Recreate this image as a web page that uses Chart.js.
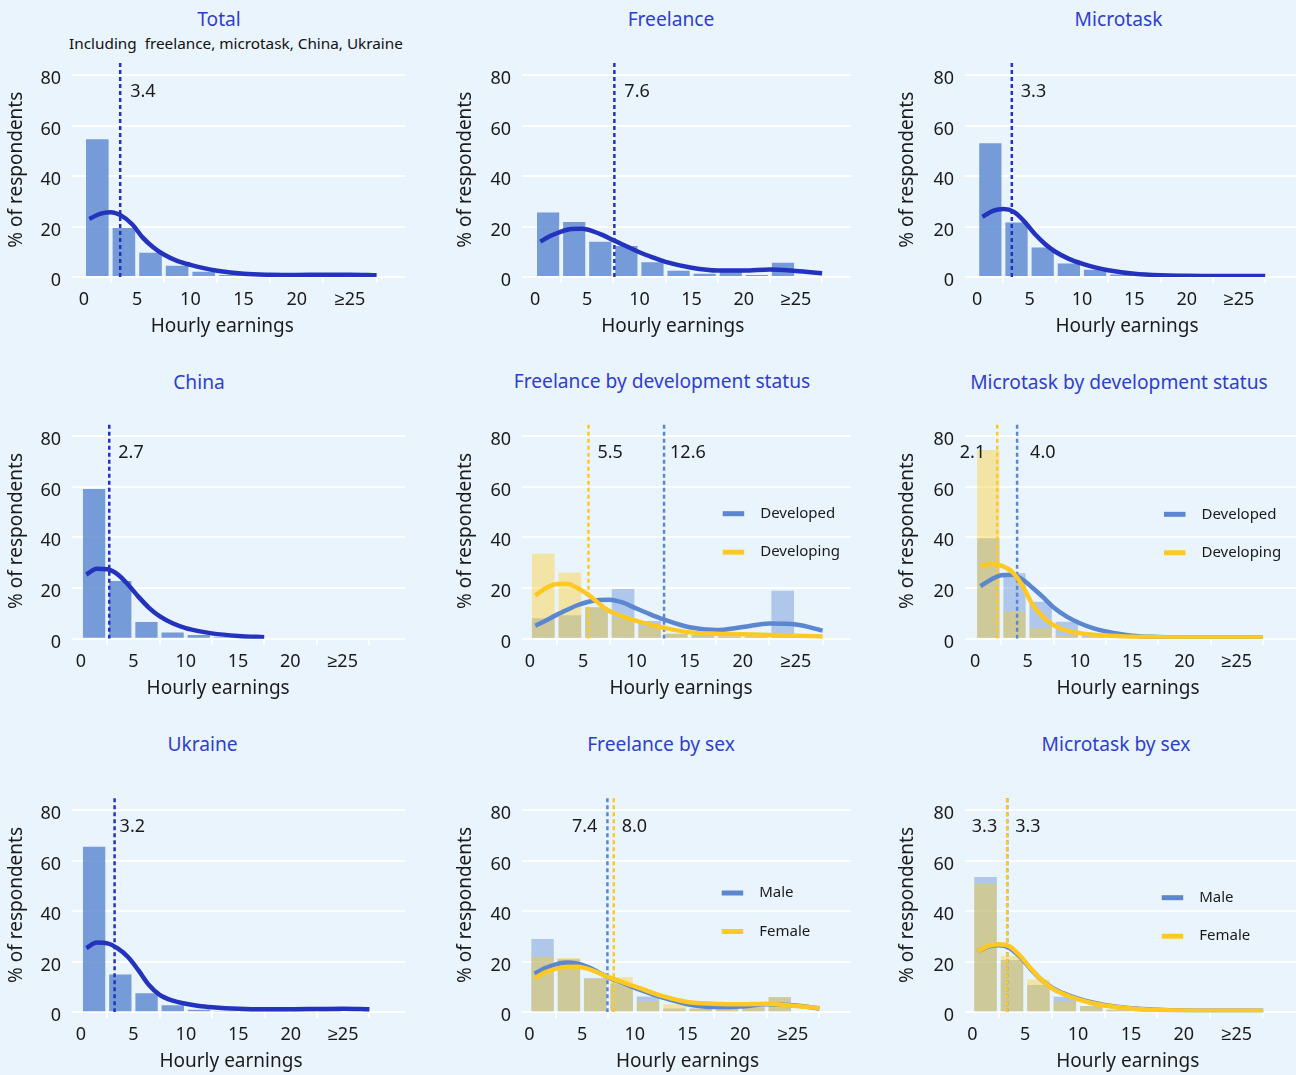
<!DOCTYPE html>
<html><head><meta charset="utf-8">
<script src="https://cdn.jsdelivr.net/npm/chart.js@4.4.1/dist/chart.umd.min.js"></script>
<style>
html,body{margin:0;padding:0;background:#EAF4FD;}
body{width:1296px;height:1075px;position:relative;overflow:hidden;font-family:"Noto Sans",sans-serif;}
.ttl{position:absolute;color:#2F3FCB;font-size:19.2px;line-height:1;white-space:pre;transform:translate(-50%,-50%);}
.sub{position:absolute;color:#111;font-size:15.3px;line-height:1;white-space:pre;transform:translate(-50%,-50%);}
canvas{position:absolute;}
</style></head><body>
<script>
// ---------- data ----------
const binCenters = [1.25, 3.75, 6.25, 8.75, 11.25, 13.75, 16.25, 18.75, 21.25, 23.75];
const kdeX = [0.5, 1.5, 2.5, 3.5, 4.5, 5.5, 6.5, 7.5, 8.75, 10, 11.25, 12.5, 15, 17.5, 20, 22.5, 25, 27.5];
const xTickValues = [0, 5, 10, 15, 20, 25];
const xTickLabels = ['0', '5', '10', '15', '20', '≥25'];
const yTickValues = [0, 20, 40, 60, 80];
const panelTitles = ['Total', 'Freelance', 'Microtask', 'China', 'Freelance by development status',
  'Microtask by development status', 'Ukraine', 'Freelance by sex', 'Microtask by sex'];
const subtitle = 'Including  freelance, microtask, China, Ukraine';
const yAxisTitle = '% of respondents';
const xAxisTitle = 'Hourly earnings';
const devLabels = ['Developed', 'Developing'];
const sexLabels = ['Male', 'Female'];

const totalBars = [54.6, 19.4, 9.6, 4.5, 2.1, 0.8, 0.4, 0.3, 0.2, 0.3];
const totalKde = [23.0, 25.0, 25.6, 24.3, 21.0, 15.7, 11.8, 8.9, 6.4, 4.8, 3.5, 2.5, 1.3, 0.9, 0.8, 0.9, 0.9, 0.7];
const totalMedian = 3.4;

const freelanceBars = [25.5, 21.8, 14.0, 12.3, 5.8, 2.5, 1.3, 2.2, 0.8, 5.6];
const freelanceKde = [14.0, 16.3, 18.0, 19.0, 19.1, 18.2, 16.6, 14.6, 12.2, 9.8, 7.8, 6.0, 3.7, 2.6, 2.6, 3.0, 2.4, 1.5];
const freelanceMedian = 7.6;

const microtaskBars = [53.0, 21.6, 11.7, 5.3, 2.9, 1.0, 0.4, 0.3, 0.3, 0.3];
const microtaskKde = [23.8, 26.2, 26.9, 25.8, 22.0, 17.0, 13.0, 9.9, 7.2, 5.3, 3.8, 2.7, 1.3, 0.7, 0.5, 0.4, 0.4, 0.4];
const microtaskMedian = 3.3;

const chinaBars = [59.1, 22.8, 6.6, 2.4, 1.5, 0.6, 0.2, 0, 0, 0];
const chinaKde = [25.3, 27.6, 27.4, 25.4, 21.3, 16.5, 12.2, 8.9, 6.1, 4.2, 3.0, 2.1, 1.1, 0.6, null, null, null, null];
const chinaMedian = 2.7;

const freelanceDevelopedBars = [8.1, 9.3, 12.4, 19.6, 7.0, 2.0, 1.5, 1.0, 1.0, 18.9];
const freelanceDevelopingBars = [33.5, 26.0, 12.2, 7.9, 4.4, 2.0, 1.0, 1.0, 0.8, 0.5];
const freelanceDevelopedKde = [5.1, 7.2, 9.4, 11.4, 13.3, 14.6, 15.3, 15.4, 14.2, 11.9, 9.7, 7.7, 4.5, 3.4, 4.6, 6.0, 5.6, 3.2];
const freelanceDevelopingKde = [17.0, 20.0, 21.6, 21.7, 19.9, 17.3, 13.8, 10.8, 8.7, 7.0, 5.6, 4.4, 2.5, 2.0, 1.8, 1.5, 1.2, 0.9];
const freelanceDevelopedMedian = 12.6;
const freelanceDevelopingMedian = 5.5;

const microtaskDevelopedBars = [39.6, 25.8, 14.6, 6.7, 2.0, 0.8, 0.4, 0.3, 0.3, 0.3];
const microtaskDevelopingBars = [74.5, 10.7, 4.1, 1.5, 0.5, 0.3, 0.2, 0.2, 0.2, 0.2];
const microtaskDevelopedKde = [20.7, 23.3, 25.0, 25.2, 23.4, 20.0, 16.3, 12.3, 8.7, 6.1, 4.2, 2.9, 1.2, 0.7, 0.5, 0.5, 0.5, 0.5];
const microtaskDevelopingKde = [28.6, 29.5, 28.8, 26.5, 21.0, 13.3, 8.5, 5.3, 3.2, 2.2, 1.6, 1.3, 0.8, 0.6, 0.5, 0.5, 0.5, 0.5];
const microtaskDevelopedMedian = 4.0;
const microtaskDevelopingMedian = 2.1;

const ukraineBars = [65.6, 15.0, 7.5, 2.8, 1.0, 0.5, 0.3, 0.3, 0.3, 0.3];
const ukraineKde = [25.5, 27.6, 27.3, 25.3, 21.8, 16.5, 10.7, 6.9, 4.6, 3.4, 2.5, 2.0, 1.4, 1.2, 1.2, 1.3, 1.4, 1.2];
const ukraineMedian = 3.2;

const freelanceMaleBars = [29.0, 21.0, 13.5, 11.4, 6.3, 1.5, 1.5, 1.5, 2.0, 6.0];
const freelanceFemaleBars = [22.0, 21.5, 13.3, 14.0, 4.5, 3.2, 1.5, 1.7, 2.2, 6.0];
const freelanceMaleKde = [15.3, 17.5, 19.0, 19.7, 19.3, 18.0, 16.0, 13.8, 11.8, 9.7, 7.8, 6.0, 3.2, 2.1, 2.3, 3.2, 2.8, 1.5];
const freelanceFemaleKde = [13.5, 15.8, 17.2, 17.9, 18.0, 17.3, 15.7, 13.9, 12.1, 10.3, 8.4, 6.6, 4.1, 3.4, 3.2, 3.4, 2.6, 1.7];
const freelanceMaleMedian = 7.4;
const freelanceFemaleMedian = 8.0;

const microtaskMaleBars = [53.6, 20.7, 10.8, 6.2, 2.5, 1.0, 0.5, 0.3, 0.3, 0.3];
const microtaskFemaleBars = [50.8, 22.3, 13.0, 4.2, 2.5, 1.0, 0.5, 0.3, 0.3, 0.3];
const microtaskMaleKde = [24.0, 26.0, 26.6, 25.6, 22.0, 17.2, 13.0, 9.9, 7.3, 5.4, 4.0, 2.9, 1.6, 1.0, 0.7, 0.6, 0.6, 0.6];
const microtaskFemaleKde = [24.0, 26.3, 27.0, 26.2, 22.5, 17.5, 13.0, 9.6, 7.0, 5.1, 3.7, 2.7, 1.5, 0.9, 0.7, 0.6, 0.6, 0.6];
const microtaskMaleMedian = 3.3;
const microtaskFemaleMedian = 3.3;

// ---------- style ----------
const FONT = '"Noto Sans", sans-serif';
const TEXT = '#1b1b1b';
const C_DARK = '#2433BD';
const C_BAR = 'rgba(91,135,208,0.82)';
const C_BLUE = '#5B87D0';
const C_BLUE_BAR = 'rgba(91,135,208,0.42)';
const C_YEL = '#FFC823';
const C_YEL_BAR = 'rgba(250,205,40,0.42)';
const Y_MAX = 85;
const MEDIAN_LABEL_Y = 73.3;

const colLeft = [0, 432, 864], colYW = [72, 90, 101], colPadR = [27, 13, 0], colYTitlePad = [5.6, 22.6, 31.9];
const rowTop = [0, 362, 724], rowH = [360, 360, 351], rowPadT = [62.4, 61.3, 73.7], rowXH = [83, 83.3, 62.7];
const titlePos = [[219, 19], [671, 19], [1118.5, 19], [199, 382], [662, 381], [1119, 382], [202.5, 744], [661, 744], [1116, 744]];
const subtitlePos = [236, 43.5];

const panels = [
  {xMin: -1.13, xMax: 30.17, xTitleAt: 13.0,
   bars: [[totalBars, C_BAR]], kdes: [[totalKde, C_DARK]], medians: [[totalMedian, C_DARK, 'right', 10]], legend: null},
  {xMin: -1.25, xMax: 30.27, xTitleAt: 13.2,
   bars: [[freelanceBars, C_BAR]], kdes: [[freelanceKde, C_DARK]], medians: [[freelanceMedian, C_DARK, 'right', 10]], legend: null},
  {xMin: -1.17, xMax: 30.44, xTitleAt: 14.3,
   bars: [[microtaskBars, C_BAR]], kdes: [[microtaskKde, C_DARK]], medians: [[microtaskMedian, C_DARK, 'right', 9]], legend: null},
  {xMin: -0.86, xMax: 30.95, xTitleAt: 13.1,
   bars: [[chinaBars, C_BAR]], kdes: [[chinaKde, C_DARK]], medians: [[chinaMedian, C_DARK, 'right', 9]], legend: null},
  {xMin: -0.75, xMax: 30.17, xTitleAt: 14.2,
   bars: [[freelanceDevelopedBars, C_BLUE_BAR], [freelanceDevelopingBars, C_YEL_BAR]],
   kdes: [[freelanceDevelopedKde, C_BLUE], [freelanceDevelopingKde, C_YEL]],
   medians: [[freelanceDevelopedMedian, C_BLUE, 'right', 6], [freelanceDevelopingMedian, C_YEL, 'right', 9]],
   legend: {labels: devLabels, colors: [C_BLUE, C_YEL], dx: 200.7, dy: 90.4}},
  {xMin: -0.98, xMax: 30.66, xTitleAt: 14.6,
   bars: [[microtaskDevelopedBars, C_BLUE_BAR], [microtaskDevelopingBars, C_YEL_BAR]],
   kdes: [[microtaskDevelopedKde, C_BLUE], [microtaskDevelopingKde, C_YEL]],
   medians: [[microtaskDevelopedMedian, C_BLUE, 'right', 13], [microtaskDevelopingMedian, C_YEL, 'left', 12]],
   legend: {labels: devLabels, colors: [C_BLUE, C_YEL], dx: 199, dy: 91}},
  {xMin: -0.86, xMax: 30.89, xTitleAt: 14.3,
   bars: [[ukraineBars, C_BAR]], kdes: [[ukraineKde, C_DARK]], medians: [[ukraineMedian, C_DARK, 'right', 5]], legend: null},
  {xMin: -0.70, xMax: 30.5, xTitleAt: 15.0,
   bars: [[freelanceMaleBars, C_BLUE_BAR], [freelanceFemaleBars, C_YEL_BAR]],
   kdes: [[freelanceMaleKde, C_BLUE], [freelanceFemaleKde, C_YEL]],
   medians: [[freelanceMaleMedian, C_BLUE, 'left', 10], [freelanceFemaleMedian, C_YEL, 'right', 8]],
   legend: {labels: sexLabels, colors: [C_BLUE, C_YEL], dx: 199.7, dy: 95.3}},
  {xMin: -0.69, xMax: 30.6, xTitleAt: 14.7,
   bars: [[microtaskMaleBars, C_BLUE_BAR], [microtaskFemaleBars, C_YEL_BAR]],
   kdes: [[microtaskMaleKde, C_BLUE], [microtaskFemaleKde, C_YEL]],
   medians: [[microtaskMaleMedian, C_BLUE, 'left', 10], [microtaskFemaleMedian, C_YEL, 'right', 8]],
   legend: {labels: sexLabels, colors: [C_BLUE, C_YEL], dx: 196.7, dy: 100}}
];

// ---------- titles ----------
panelTitles.forEach((t, i) => {
  const d = document.createElement('div');
  d.className = 'ttl'; d.textContent = t;
  d.style.left = titlePos[i][0] + 'px'; d.style.top = titlePos[i][1] + 'px';
  document.body.appendChild(d);
});
{
  const d = document.createElement('div');
  d.className = 'sub'; d.textContent = subtitle;
  d.style.left = subtitlePos[0] + 'px'; d.style.top = subtitlePos[1] + 'px';
  document.body.appendChild(d);
}

// ---------- charts ----------
panels.forEach((p, idx) => {
  const col = idx % 3, row = Math.floor(idx / 3);
  const W = 432, H = rowH[row];
  const yw = colYW[col], xh = rowXH[row];
  const canvas = document.createElement('canvas');
  canvas.width = W; canvas.height = H;
  canvas.style.left = colLeft[col] + 'px'; canvas.style.top = rowTop[row] + 'px';
  canvas.style.width = W + 'px'; canvas.style.height = H + 'px';
  document.body.appendChild(canvas);

  const datasets = [];
  let order = 20;
  p.bars.forEach(([vals, color]) => datasets.push({
    type: 'bar', data: binCenters.map((x, i) => ({x, y: vals[i]})),
    backgroundColor: color, borderWidth: 0, barPercentage: 0.85, categoryPercentage: 1,
    grouped: false, order: order--
  }));
  p.medians.forEach(([m, color]) => datasets.push({
    type: 'line', data: [{x: m, y: 0}, {x: m, y: Y_MAX}],
    borderColor: color, borderWidth: 2.5, borderDash: [4, 3], pointRadius: 0, order: order--
  }));
  p.kdes.forEach(([vals, color]) => datasets.push({
    type: 'line', data: kdeX.map((x, i) => ({x, y: vals[i]})).filter(d => d.y !== null),
    borderColor: color, borderWidth: 4.5, pointRadius: 0, cubicInterpolationMode: 'monotone',
    borderCapStyle: 'butt', order: order--
  }));

  const annot = {
    id: 'annot' + idx,
    afterDraw(chart) {
      const ctx = chart.ctx, xs = chart.scales.x, ys = chart.scales.y, ca = chart.chartArea;
      ctx.save();
      ctx.fillStyle = TEXT;
      ctx.textBaseline = 'middle';
      ctx.font = '18px ' + FONT;
      p.medians.forEach(([m, color, side, gap]) => {
        const px = xs.getPixelForValue(m), py = ys.getPixelForValue(MEDIAN_LABEL_Y);
        ctx.textAlign = side === 'right' ? 'left' : 'right';
        ctx.fillText(m.toFixed(1), side === 'right' ? px + gap : px - gap, py);
      });
      ctx.font = '19px ' + FONT;
      ctx.textAlign = 'center';
      ctx.fillText(xAxisTitle, xs.getPixelForValue(p.xTitleAt), ca.bottom + 49.5);
      if (p.legend) {
        p.legend.labels.forEach((lab, i) => {
          const lx = ca.left + p.legend.dx, ly = ca.top + p.legend.dy + i * 38.5;
          ctx.strokeStyle = p.legend.colors[i]; ctx.lineWidth = 5;
          ctx.beginPath(); ctx.moveTo(lx, ly); ctx.lineTo(lx + 21.5, ly); ctx.stroke();
          ctx.font = '15px ' + FONT; ctx.textAlign = 'left';
          ctx.fillText(lab, lx + 37.5, ly);
        });
      }
      ctx.restore();
    }
  };

  new Chart(canvas, {
    type: 'bar',
    data: {datasets},
    plugins: [annot],
    options: {
      responsive: false, animation: false, devicePixelRatio: 1,
      layout: {padding: {left: 0, right: colPadR[col], top: rowPadT[row], bottom: 0}},
      plugins: {legend: {display: false}, tooltip: {enabled: false}, title: {display: false}},
      scales: {
        x: {
          type: 'linear', min: p.xMin, max: p.xMax, offset: false,
          afterBuildTicks: s => { s.ticks = xTickValues.map(v => ({value: v})); },
          afterFit: s => { s.height = xh; },
          ticks: {padding: 6, color: TEXT, font: {family: FONT, size: 18}, maxRotation: 0, autoSkip: false,
                  callback: (v, i) => xTickLabels[i]},
          grid: {drawOnChartArea: false, drawTicks: true, tickLength: 6, color: '#ffffff', lineWidth: 2},
          border: {display: false}
        },
        y: {
          type: 'linear', min: 0, max: Y_MAX,
          afterBuildTicks: s => { s.ticks = yTickValues.map(v => ({value: v})); },
          afterFit: s => { s.width = yw; },
          ticks: {padding: 11, labelOffset: 4, color: TEXT, font: {family: FONT, size: 18}},
          grid: {color: '#ffffff', lineWidth: 2, drawTicks: false},
          border: {display: false},
          title: {display: true, text: yAxisTitle, color: TEXT, font: {family: FONT, size: 19},
                  padding: {top: colYTitlePad[col], bottom: 0}}
        }
      }
    }
  });
});
</script>
</body></html>
